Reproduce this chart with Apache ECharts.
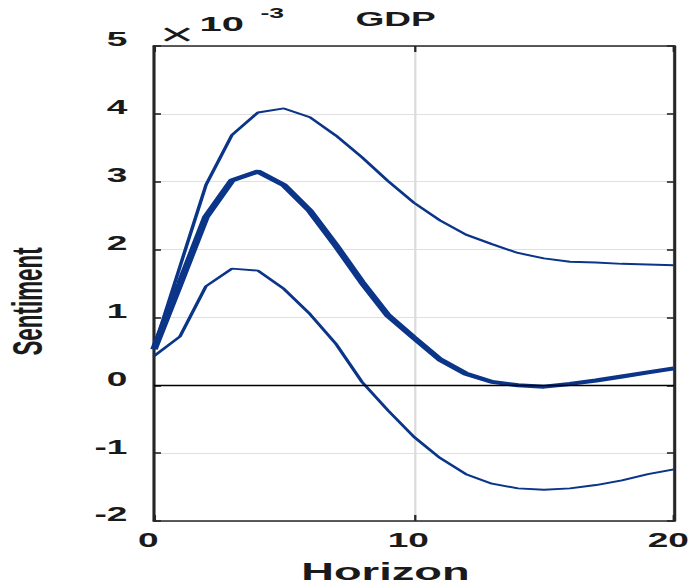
<!DOCTYPE html>
<html>
<head>
<meta charset="utf-8">
<script src="https://cdn.jsdelivr.net/npm/echarts@6/dist/echarts.min.js"></script>
<style>
  html, body { margin: 0; padding: 0; background: #ffffff; overflow: hidden; }
  #wrap { width: 688px; height: 587px; overflow: hidden; }
  #chart { width: 362px; height: 587px; transform: scaleX(1.9006); transform-origin: 0 0; }
</style>
</head>
<body>
<div id="wrap"><div id="chart"></div></div>
<script>
// ---- data (units of 10^-3) ----
const horizon = [0, 1, 2, 3, 4, 5, 6, 7, 8, 9, 10, 11, 12, 13, 14, 15, 16, 17, 18, 19, 20];
const median  = [0.53, 1.50, 2.48, 3.02, 3.15, 2.95, 2.57, 2.06, 1.52, 1.03, 0.70, 0.38, 0.17, 0.05, 0.00, -0.02, 0.02, 0.07, 0.13, 0.19, 0.25];
const upper   = [0.55, 1.75, 2.95, 3.69, 4.02, 4.08, 3.95, 3.68, 3.36, 3.01, 2.69, 2.43, 2.22, 2.08, 1.95, 1.87, 1.82, 1.81, 1.79, 1.78, 1.77];
const lower   = [0.43, 0.72, 1.46, 1.72, 1.69, 1.42, 1.05, 0.61, 0.05, -0.37, -0.76, -1.07, -1.31, -1.45, -1.52, -1.54, -1.52, -1.47, -1.40, -1.31, -1.24];
const xTicks  = { min: 0, max: 20, interval: 10 };
const yTicks  = { min: -2, max: 5, interval: 1 };
const titleText = 'GDP';
const xName = 'Horizon';
const yName = 'Sentiment';

const FONT = "'Liberation Sans', Arial, Helvetica, sans-serif";
const LINE = '#0b3588';
const AX = '#262626';
const TXT = '#1a1a1a';

const chart = echarts.init(document.getElementById('chart'), null, { renderer: 'svg' });

const pairs = (arr) => horizon.map((h, i) => [h, arr[i]]);

const baseAxisLine = { show: true, onZero: false, lineStyle: { color: AX, width: 1.6 } };

chart.setOption({
  animation: false,
  backgroundColor: '#ffffff',
  title: [{
    text: titleText, left: 187, top: 9, padding: 0,
    textStyle: { fontFamily: FONT, fontSize: 19.5, fontWeight: 'bold', color: TXT }
  }],
  graphic: [
    { type: 'text', x: 84, y: 34, style: { text: '\u00d7', font: "normal 31px 'Liberation Sans', Arial, sans-serif", fill: TXT, align: 'left', verticalAlign: 'middle' } },
    { type: 'text', x: 105, y: 24, style: { text: '10', font: "bold 21px 'Liberation Sans', Arial, sans-serif", fill: TXT, align: 'left', verticalAlign: 'middle' } },
    { type: 'text', x: 137, y: 13, style: { text: '-3', font: "bold 14px 'Liberation Sans', Arial, sans-serif", fill: TXT, align: 'left', verticalAlign: 'middle' } }
  ],
  grid: { left: 81, right: 7.4, top: 46, bottom: 66, containLabel: false, outerBoundsMode: 'none' },
  xAxis: [{
    type: 'value', position: 'bottom', min: xTicks.min, max: xTicks.max, interval: xTicks.interval,
    axisLine: baseAxisLine,
    axisTick: { show: true, inside: true, length: 6, lineStyle: { color: AX, width: 1.2 } },
    axisLabel: { show: true, margin: 9, padding: [0, 6, 0, 0], fontFamily: FONT, fontSize: 19.5, fontWeight: 'bold', color: TXT },
    splitLine: { show: true, lineStyle: { color: '#dcdcdc', width: 1.2 } },
    name: xName, nameLocation: 'middle', nameGap: 39,
    nameTextStyle: { fontFamily: FONT, fontSize: 23.8, fontWeight: 'bold', color: TXT, padding: [0, 30, 0, 0] }
  }, {
    type: 'value', position: 'top', min: xTicks.min, max: xTicks.max, interval: xTicks.interval,
    axisLine: baseAxisLine,
    axisTick: { show: true, inside: true, length: 6, lineStyle: { color: AX, width: 1.2 } },
    axisLabel: { show: false }, splitLine: { show: false }
  }],
  yAxis: [{
    type: 'value', position: 'left', min: yTicks.min, max: yTicks.max, interval: yTicks.interval,
    axisLine: baseAxisLine,
    axisTick: { show: true, inside: true, length: 3.7, lineStyle: { color: AX, width: 1.6 } },
    axisLabel: { show: true, margin: 14, verticalAlign: 'bottom', lineHeight: 13, fontFamily: FONT, fontSize: 19.5, fontWeight: 'bold', color: TXT },
    splitLine: { show: true, lineStyle: { color: '#e0e0e0', width: 1.2 } },
    name: yName, nameLocation: 'middle', nameRotate: 90, nameGap: 56,
    nameTextStyle: { fontFamily: FONT, fontSize: 22.4, fontWeight: 'bold', color: TXT, padding: [0, 36, 0, 0] }
  }, {
    type: 'value', position: 'right', min: yTicks.min, max: yTicks.max, interval: yTicks.interval,
    axisLine: baseAxisLine,
    axisTick: { show: true, inside: true, length: 3.7, lineStyle: { color: AX, width: 1.6 } },
    axisLabel: { show: false }, splitLine: { show: false }
  }],
  series: [{
    name: 'upper', type: 'line', xAxisIndex: 0, yAxisIndex: 0, data: pairs(upper),
    symbol: 'none', smooth: false, lineStyle: { color: LINE, width: 1.9 }, emphasis: { disabled: true }, z: 3
  }, {
    name: 'lower', type: 'line', xAxisIndex: 0, yAxisIndex: 0, data: pairs(lower),
    symbol: 'none', smooth: false, lineStyle: { color: LINE, width: 1.9 }, emphasis: { disabled: true }, z: 3
  }, {
    name: 'median', type: 'line', xAxisIndex: 0, yAxisIndex: 0, data: pairs(median),
    symbol: 'none', smooth: false, lineStyle: { color: LINE, width: 4 }, emphasis: { disabled: true }, z: 4,
    markLine: {
      silent: true, symbol: ['none', 'none'], label: { show: false },
      lineStyle: { color: '#000000', width: 1.4, type: 'solid' },
      emphasis: { disabled: true },
      data: [{ yAxis: 0 }]
    }
  }]
});
</script>
</body>
</html>
